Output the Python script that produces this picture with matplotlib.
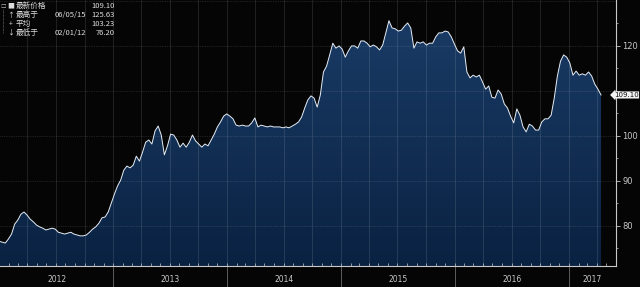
import matplotlib
matplotlib.use("Agg")
import matplotlib.pyplot as plt
import matplotlib.dates as mdates
import numpy as np
import pandas as pd
from matplotlib.colors import LinearSegmentedColormap
from matplotlib.transforms import blended_transform_factory

cjk = ["Noto Sans CJK SC", "DejaVu Sans"]

# index level, one reading every 10 days from 2012-01-01
values = [
    76.6, 76.4, 76.2, 77.1, 78.2, 80.4, 81.3, 82.6, 83.1, 82.4,
    81.5, 80.9, 80.2, 79.8, 79.5, 79.1, 79.3, 79.5, 79.3, 78.6,
    78.4, 78.2, 78.4, 78.6, 78.2, 78.0, 77.8, 77.8, 78.0, 78.6,
    79.3, 79.8, 80.6, 81.8, 82.0, 83.1, 85.1, 87.1, 88.9, 90.2,
    92.4, 93.3, 92.9, 93.5, 95.5, 94.4, 96.4, 98.6, 99.1, 98.2,
    101.1, 102.2, 100.2, 95.8, 97.8, 100.4, 100.2, 99.1, 97.5, 98.4,
    97.5, 98.6, 100.2, 98.9, 98.2, 97.5, 98.2, 97.8, 99.1, 100.4,
    102.0, 103.1, 104.4, 104.9, 104.4, 103.8, 102.4, 102.2, 102.4, 102.2,
    102.2, 102.9, 104.0, 102.0, 102.4, 102.2, 102.0, 102.2, 102.0, 102.0,
    102.0, 101.8, 102.0, 101.8, 102.2, 102.6, 103.1, 104.2, 106.2, 108.0,
    108.9, 108.4, 106.4, 109.1, 114.2, 115.5, 118.0, 120.6, 119.5, 120.0,
    119.3, 117.5, 118.9, 120.0, 120.0, 119.5, 121.1, 121.1, 120.6, 119.8,
    120.2, 119.8, 119.1, 120.2, 122.9, 125.6, 124.0, 123.8, 123.3, 123.5,
    124.4, 125.1, 124.0, 119.5, 120.9, 120.6, 120.9, 120.2, 120.6, 120.6,
    122.0, 122.9, 122.9, 123.3, 123.1, 122.0, 120.4, 118.9, 118.4, 119.8,
    114.2, 112.9, 113.5, 113.1, 113.5, 112.0, 110.4, 111.1, 108.6, 108.4,
    110.2, 109.3, 107.1, 106.2, 104.4, 102.9, 106.0, 104.6, 102.0, 100.9,
    102.6, 102.2, 101.3, 101.3, 103.1, 103.8, 103.8, 104.6, 108.4, 113.3,
    116.6, 118.0, 117.5, 116.2, 113.5, 114.4, 113.5, 113.8, 113.5, 114.2,
    113.3, 111.5, 110.4, 109.1,
]
dates = pd.date_range("2012-01-01", periods=len(values), freq="10D")

years = [2012, 2013, 2014, 2015, 2016, 2017]
y_ticks = [80, 90, 100, 110, 120]
y_labels = ["80", "90", "100", "", "120"]

legend_names = ["最新价格", "最高于", "平均", "最低于"]
legend_dates = ["", "06/05/15", "", "02/01/12"]
legend_values = ["109.10", "125.63", "103.23", "76.20"]
legend_marks = ["■", "↑", "+", "↓"]

bg = "#050505"
ylo, yhi = 71.1, 130.2
x0 = mdates.date2num(pd.Timestamp("2012-01-04"))
x1 = mdates.date2num(pd.Timestamp("2017-06-01"))

fig = plt.figure(figsize=(6.4, 2.87), dpi=100, facecolor=bg)
ax = fig.add_axes([0, 21 / 287, 616 / 640, 266 / 287])
ax.set_facecolor(bg)
ax.set_xlim(x0, x1)
ax.set_ylim(ylo, yhi)

xd = mdates.date2num(dates)

# gradient area under the line
cmap = LinearSegmentedColormap.from_list("navy", ["#0a2242", "#1b3d68"])
grad = np.linspace(0, 1, 256).reshape(-1, 1)
im = ax.imshow(grad, cmap=cmap, extent=[x0, x1, ylo, yhi], origin="lower",
               aspect="auto", zorder=1)
fb = ax.fill_between(xd, values, ylo, facecolor="none", edgecolor="none")
im.set_clip_path(fb.get_paths()[0], transform=ax.transData)

# grid
for q in pd.date_range("2012-01-01", "2017-06-01", freq="QS"):
    ax.axvline(mdates.date2num(q), color="white", alpha=0.13, lw=0.6, zorder=2)
for yv in [80, 90, 100, 110, 120, 130]:
    ax.axhline(yv, color="white", alpha=0.22, lw=0.5, ls=(0, (1, 1.5)), zorder=2)

ax.plot(xd, values, color="#e6edf5", lw=0.7, zorder=3)

# axes styling
for s in ["left", "top"]:
    ax.spines[s].set_visible(False)
ax.spines["right"].set_color("#c8c8c8")
ax.spines["bottom"].set_color("#c8c8c8")
ax.spines["right"].set_linewidth(0.8)
ax.spines["bottom"].set_linewidth(0.8)

ax.yaxis.tick_right()
ax.set_yticks(y_ticks)
ax.set_yticklabels(y_labels)
ax.set_yticks([75, 85, 95, 105, 115, 125], minor=True)
ax.tick_params(axis="y", which="major", direction="out", length=3, width=0.6,
               colors="#c8c8c8", labelsize=6, pad=1.5)
ax.tick_params(axis="y", which="minor", direction="out", length=1.5, width=0.5,
               colors="#c8c8c8")

ax.xaxis.set_major_locator(mdates.MonthLocator())
ax.xaxis.set_major_formatter(plt.NullFormatter())
ax.tick_params(axis="x", which="major", direction="in", length=2, width=0.5,
               colors="#c8c8c8")

trans = blended_transform_factory(ax.transData, ax.transAxes)
for yr in years:
    start = mdates.date2num(pd.Timestamp(f"{yr}-01-01"))
    end = min(mdates.date2num(pd.Timestamp(f"{yr + 1}-01-01")), x1)
    mid = (max(start, x0) + end) / 2
    ax.text(mid, -0.052, str(yr), transform=trans, ha="center", va="center",
            color="#c8c8c8", fontsize=5.5)
    if yr > 2012:
        ax.plot([start, start], [-0.005, -0.08], transform=trans, color="#6a6a6a",
                lw=0.6, clip_on=False)

# last value tag, right-aligned to the figure edge
tag_trans = blended_transform_factory(fig.transFigure, ax.transData)
fig.text(638.5 / 640, values[-1], f"{values[-1]:.2f}", transform=tag_trans,
         ha="right", va="center", fontsize=5, color="#111111",
         bbox=dict(boxstyle="larrow,pad=0.08", fc="#f2f2f2", ec="none"))

# legend block
rows_y = [6, 15, 24, 33]
for i in range(4):
    yy = 1 - rows_y[i] / 287
    fig.text(11 / 640, yy, legend_marks[i], color="#dddddd", fontsize=5,
             ha="center", va="center", family=cjk)
    fig.text(16 / 640, yy, legend_names[i], color="#dddddd", fontsize=5.5,
             ha="left", va="center", family=cjk)
    fig.text(55 / 640, yy, legend_dates[i], color="#dddddd", fontsize=5.5,
             ha="left", va="center", family=cjk)
    fig.text(115 / 640, yy, legend_values[i], color="#dddddd", fontsize=5.5,
             ha="right", va="center", family=cjk)
fig.text(3 / 640, 1 - 6 / 287, "□", color="#aaaaaa", fontsize=4, ha="center",
         va="center", family=cjk)
fig.add_artist(plt.Line2D([3 / 640, 3 / 640], [1 - 9 / 287, 1 - 33 / 287],
                          color="#888888", lw=0.5, ls=(0, (1, 1))))

fig.savefig("out.png", dpi=100, facecolor=bg)
